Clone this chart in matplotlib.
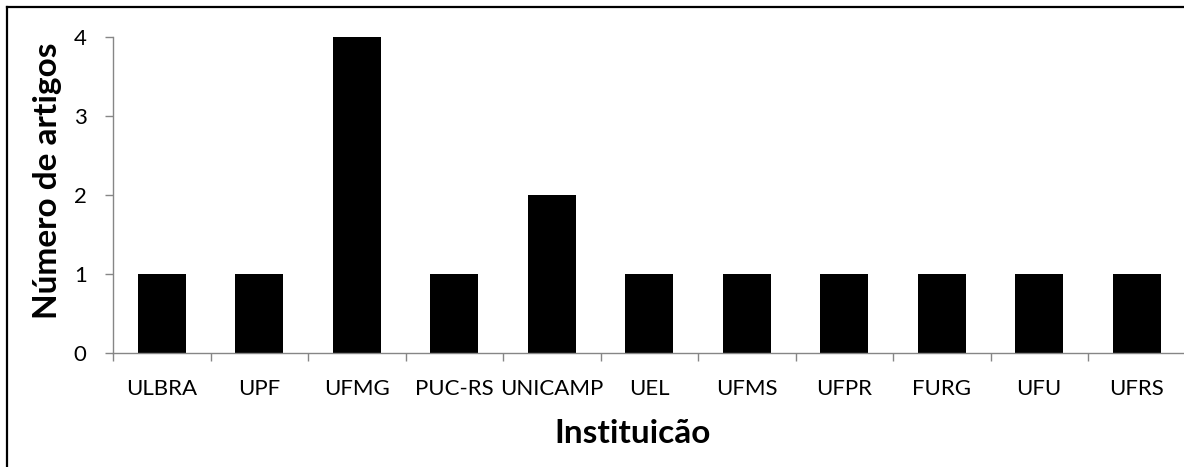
import matplotlib
matplotlib.use("Agg")
import matplotlib.pyplot as plt
from matplotlib.lines import Line2D

categories = ["ULBRA", "UPF", "UFMG", "PUC-RS", "UNICAMP", "UEL",
              "UFMS", "UFPR", "FURG", "UFU", "UFRS"]
values = [1, 1, 4, 1, 2, 1, 1, 1, 1, 1, 1]
yticks = [0, 1, 2, 3, 4]

plt.rcParams['font.family'] = ['Lato', 'DejaVu Sans']

W, H = 1184, 467
fig = plt.figure(figsize=(W / 100, H / 100), dpi=100)

left_px, bottom_px, top_px = 113, 353, 37
cat_w = 97.5
ax_w = len(categories) * cat_w
ax_h = bottom_px - top_px
ax = fig.add_axes([left_px / W, 1 - bottom_px / H, ax_w / W, ax_h / H])

pos = [i + 0.5 for i in range(len(categories))]
ax.bar(pos, values, width=0.49, color='black')
ax.set_xlim(0, len(categories))
ax.set_ylim(0, 4)

gray = '#868686'
for s in ['top', 'right']:
    ax.spines[s].set_visible(False)
for s in ['left', 'bottom']:
    ax.spines[s].set_color(gray)
    ax.spines[s].set_linewidth(1)

ax.set_yticks(yticks)
ax.set_yticklabels([str(v) for v in yticks], fontsize=16)
ax.set_xticks(range(len(categories) + 1))
ax.set_xticklabels([])
ax.set_xticks(pos, minor=True)
ax.set_xticklabels(categories, minor=True, fontsize=16)
ax.tick_params(axis='x', which='major', direction='out', length=6, color=gray, width=1)
ax.tick_params(axis='x', which='minor', length=0, pad=19)
ax.tick_params(axis='y', direction='out', length=6, color=gray, width=1, pad=13)

ax.set_ylabel("Número de artigos", fontsize=24, fontweight='bold')
ax.yaxis.set_label_coords((62 - left_px) / ax_w, (bottom_px - 181) / ax_h)
ax.set_xlabel("Instituicão", fontsize=24, fontweight='bold')
ax.xaxis.set_label_coords((633 - left_px) / ax_w, (bottom_px - 419) / ax_h)

# outer frame (only left and top visible)
fig.add_artist(Line2D([7 / W, 7 / W], [0, 1 - 7 / H], transform=fig.transFigure,
                      color='black', lw=1.6))
fig.add_artist(Line2D([7 / W, 1], [1 - 7 / H, 1 - 7 / H], transform=fig.transFigure,
                      color='black', lw=1.6))

fig.savefig("out.png", dpi=100)
